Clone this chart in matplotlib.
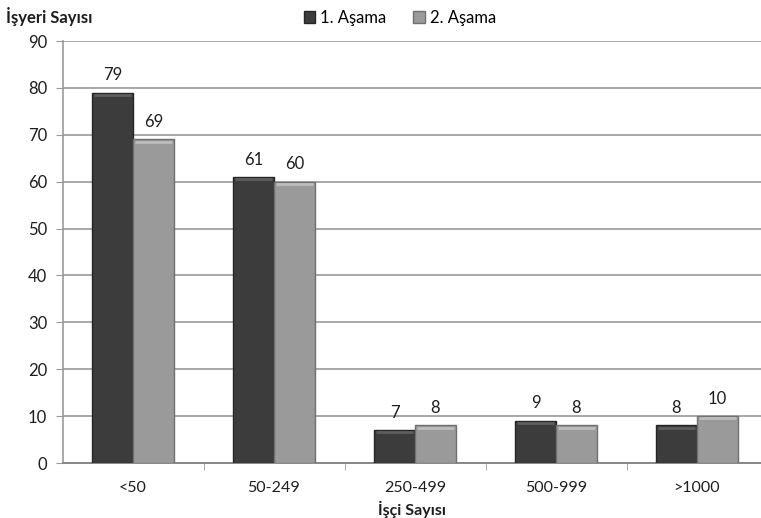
import matplotlib
matplotlib.use("Agg")
import matplotlib.pyplot as plt
import numpy as np

plt.rcParams['font.family'] = ['Lato', 'DejaVu Sans']

categories = ['<50', '50-249', '250-499', '500-999', '>1000']
series1 = [79, 61, 7, 9, 8]
series2 = [69, 60, 8, 8, 10]
labels = ['1. Aşama', '2. Aşama']
yticks = [0, 10, 20, 30, 40, 50, 60, 70, 80, 90]

fig = plt.figure(figsize=(7.61, 5.18), dpi=100)
ax = fig.add_axes([62.5/761, (518-463)/518, 705/761, 422/518])

x = np.arange(len(categories))
w = 0.29
b1 = ax.bar(x - w/2, series1, w, color='#3c3c3c', edgecolor='#262626', linewidth=1.0, label=labels[0], zorder=3)
b2 = ax.bar(x + w/2, series2, w, color='#9a9a9a', edgecolor='#707070', linewidth=1.0, label=labels[1], zorder=3)

# bevel highlight near top of bars
for rects, hc in ((b1, '#5e5e5e'), (b2, '#bdbdbd')):
    for r in rects:
        ax.plot([r.get_x() + 0.015, r.get_x() + r.get_width() - 0.015],
                [r.get_height() - 0.45, r.get_height() - 0.45],
                color=hc, lw=2.0, zorder=4, solid_capstyle='butt')

for rects, vals in ((b1, series1), (b2, series2)):
    for r, v in zip(rects, vals):
        ax.text(r.get_x() + r.get_width()/2, v + 2.0, str(v), ha='center', va='bottom',
                fontsize=12, color='#1e1e1e')

ax.set_xlim(-0.5, 4.5)
ax.set_ylim(0, 90)
ax.set_yticks(yticks)
ax.set_yticklabels([str(t) for t in yticks], fontsize=12, color='#1e1e1e')
ax.yaxis.grid(True, color='#a8a8a8', linewidth=1.4, zorder=0)
ax.set_axisbelow(True)
ax.set_xticks(x)
ax.set_xticklabels(categories, fontsize=11.5, color='#1e1e1e')
ax.tick_params(axis='x', length=0, pad=13)
ax.set_xticks(np.arange(0.5, 4.5, 1.0), minor=True)
ax.tick_params(axis='x', which='minor', length=5, color='#999999', direction='out')
ax.tick_params(axis='y', length=5, color='#999999', pad=6)

for s in ['top', 'right']:
    ax.spines[s].set_visible(False)
ax.spines['left'].set_color('#999999')
ax.spines['left'].set_linewidth(1.2)
ax.spines['bottom'].set_color('#888888')
ax.spines['bottom'].set_linewidth(1.4)

fig.text(6/761, 1 - 16/518, 'İşyeri Sayısı', fontsize=12, fontweight='bold', ha='left', va='center', color='#1e1e1e')
fig.text(412/761, 1 - 509/518, 'İşçi Sayısı', fontsize=11.5, fontweight='bold', ha='center', va='center', color='#1e1e1e')

leg = fig.legend(handles=[b1, b2], labels=labels, loc='center', bbox_to_anchor=(400/761, 1 - 18/518),
                 ncol=2, frameon=False, fontsize=12, handlelength=0.7, handleheight=0.7,
                 handletextpad=0.3, columnspacing=1.6)

fig.savefig('out.png', dpi=100)
